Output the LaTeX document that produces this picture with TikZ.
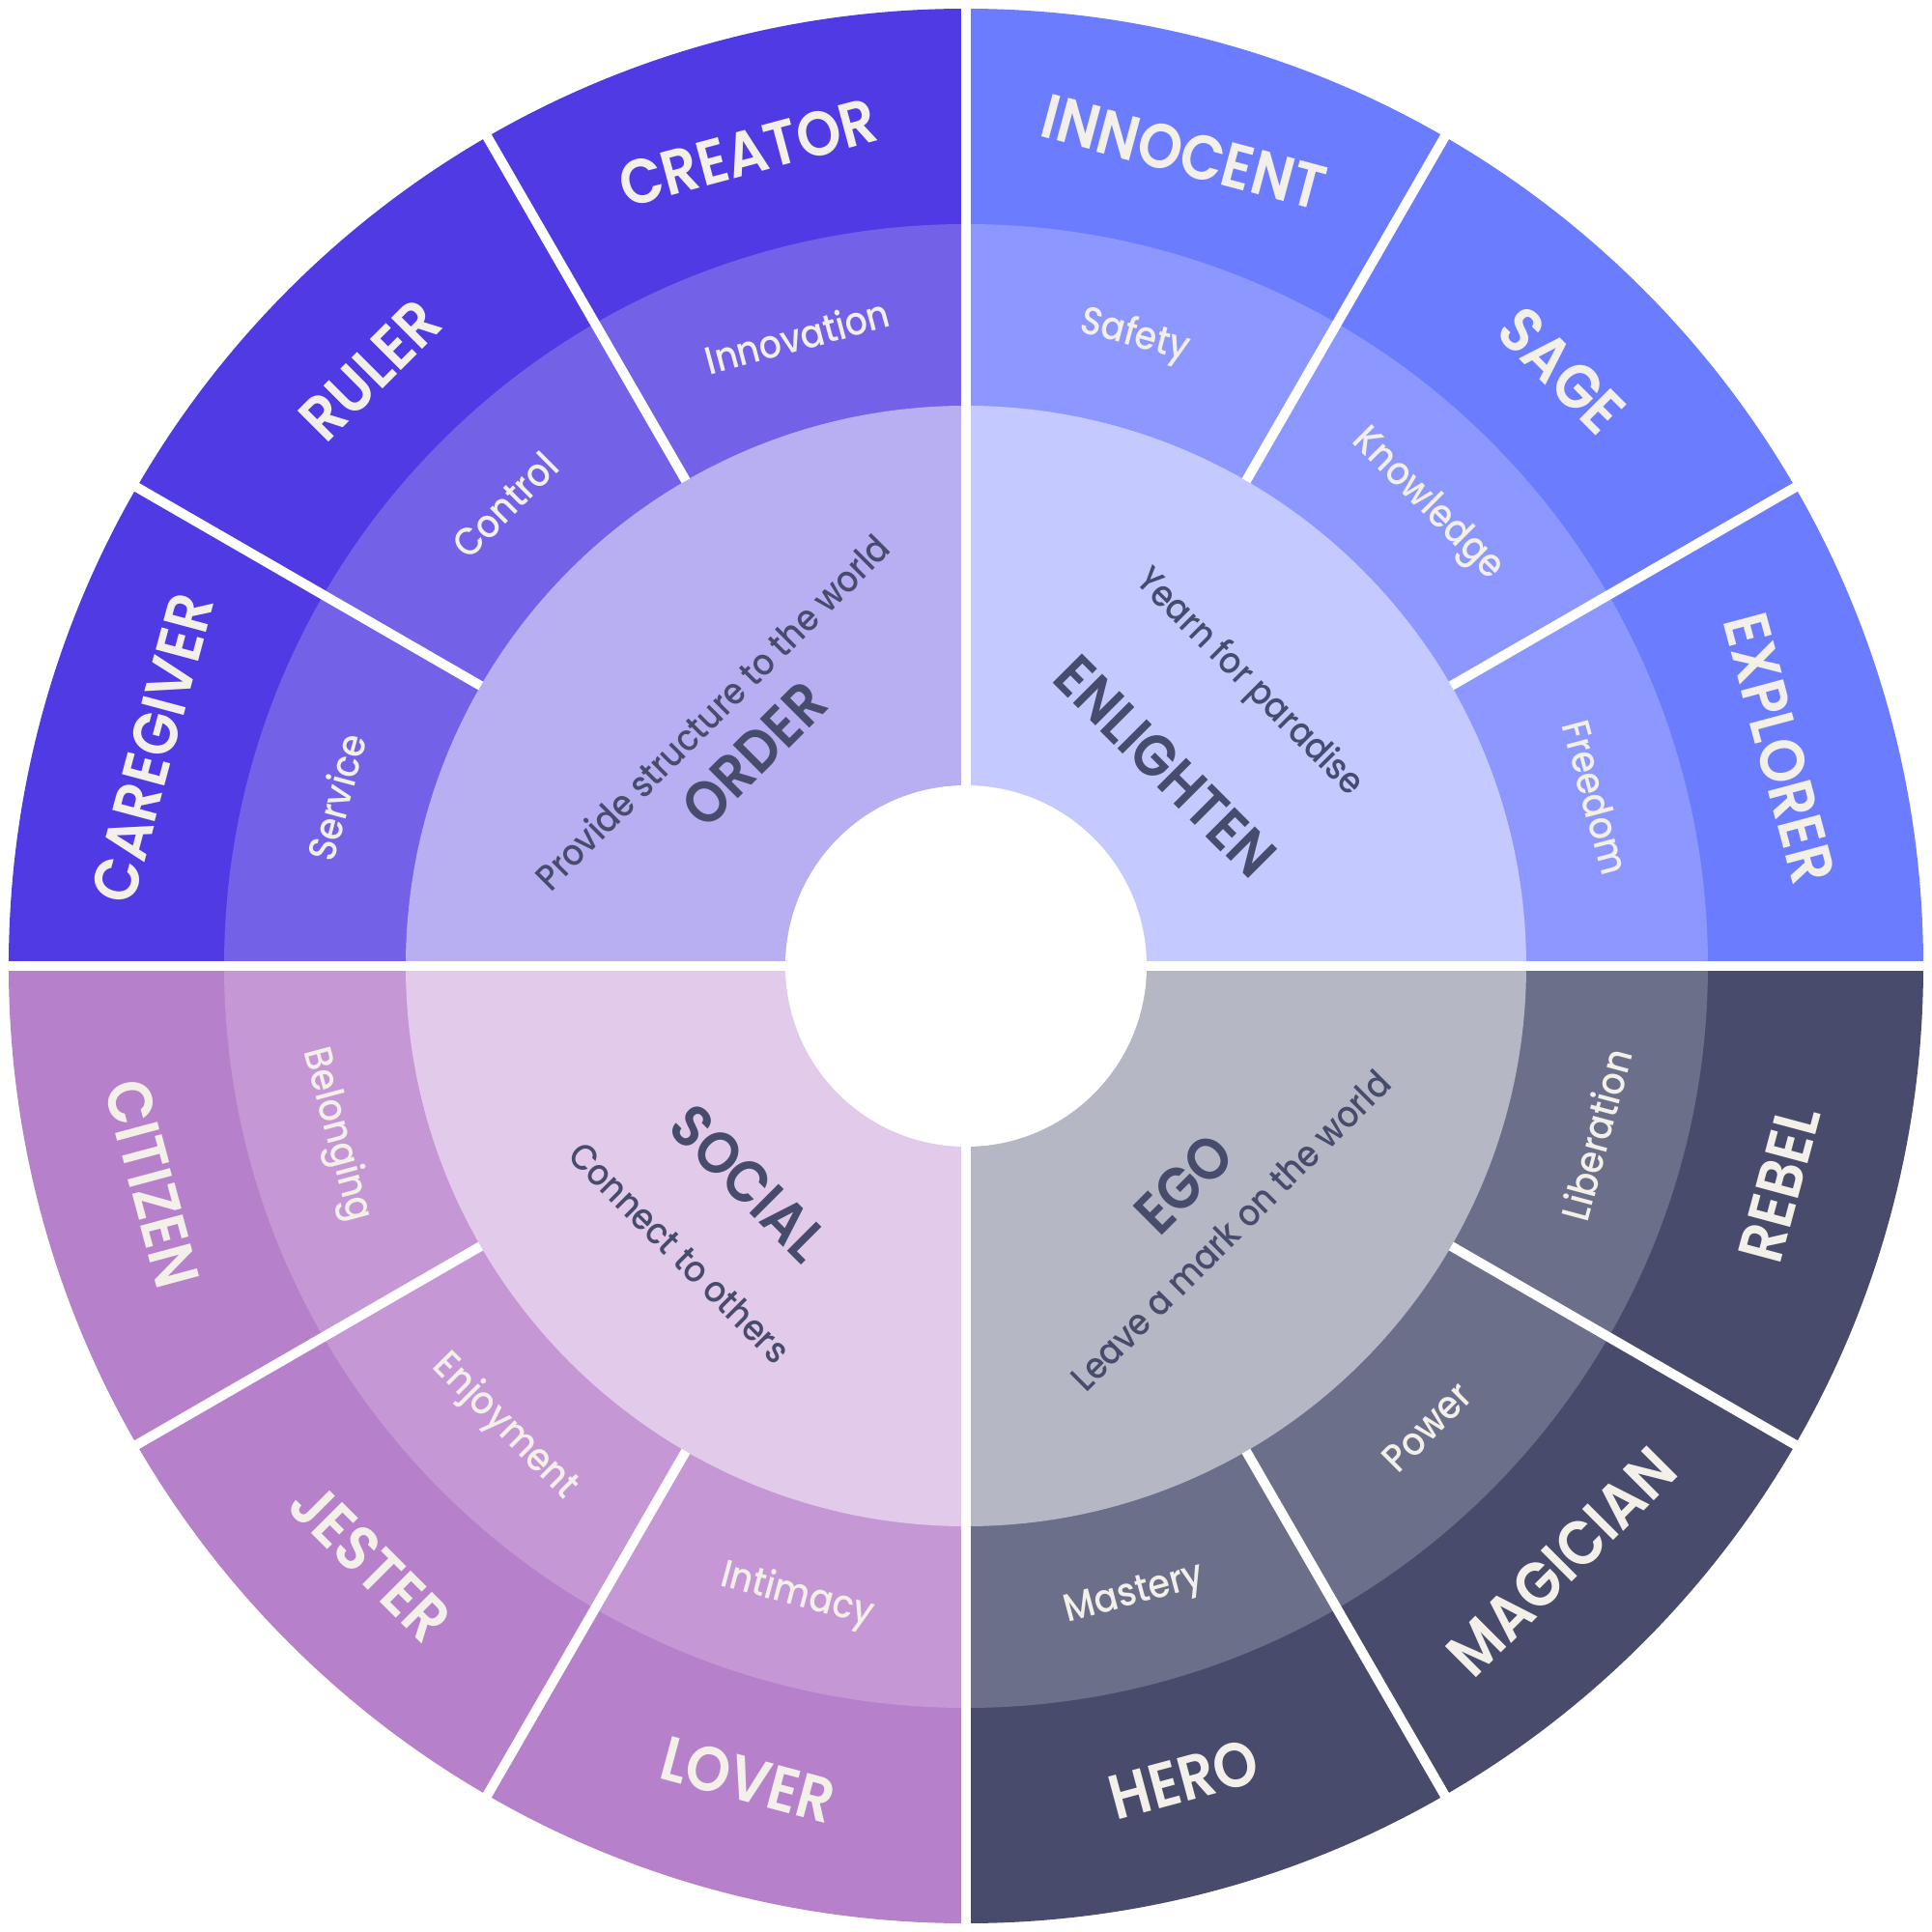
\documentclass[tikz,border=0pt]{standalone}
\usepackage{fontspec}
\setmainfont{Poppins}[FakeStretch=0.9, BoldFont={Poppins SemiBold}]
\newfontfamily\mediumfont{Poppins Medium}[FakeStretch=0.9]
\usetikzlibrary{calc}
\usetikzlibrary{positioning}

\definecolor{orderOut}{HTML}{4F3AE3}
\definecolor{orderMid}{HTML}{7361E8}
\definecolor{orderIn}{HTML}{B8AFF2}
\definecolor{enlOut}{HTML}{6C7CFF}
\definecolor{enlMid}{HTML}{8C98FF}
\definecolor{enlIn}{HTML}{C4CAFF}
\definecolor{egoOut}{HTML}{484B6B}
\definecolor{egoMid}{HTML}{6C6F8A}
\definecolor{egoIn}{HTML}{B6B7C5}
\definecolor{socOut}{HTML}{B780CB}
\definecolor{socMid}{HTML}{C597D5}
\definecolor{socIn}{HTML}{E2CAEA}
\definecolor{lightText}{HTML}{F3EFE9}
\definecolor{darkText}{HTML}{474C6D}

\tikzset{
  gapline/.style={white, line width=0.1cm},
  outerlbl/.style={text=lightText, font=\bfseries\fontsize{18.5}{18.5}\selectfont},
  midlbl/.style={text=lightText, font=\mediumfont\fontsize{11.5}{11.5}\selectfont},
  titlelbl/.style={text=darkText, font=\bfseries\fontsize{17.4}{17.4}\selectfont},
  desclbl/.style={text=darkText, font=\mediumfont\fontsize{10.7}{10.7}\selectfont},
}

\begin{document}
\begin{tikzpicture}
  \useasboundingbox (-10,-10) rectangle (10,10);

  % three rings per quarter
  \foreach \a/\co/\cm/\ci in {90/orderOut/orderMid/orderIn, 0/enlOut/enlMid/enlIn,
                              270/egoOut/egoMid/egoIn, 180/socOut/socMid/socIn} {
    \fill [\co] (0,0) -- (\a:9.91) arc [start angle=\a, delta angle=90, radius=9.91] -- cycle;
    \fill [\cm] (0,0) -- (\a:7.68) arc [start angle=\a, delta angle=90, radius=7.68] -- cycle;
    \fill [\ci] (0,0) -- (\a:5.80) arc [start angle=\a, delta angle=90, radius=5.80] -- cycle;
  }
  \fill [white] (0,0) circle (1.87);

  % white gaps
  \draw [gapline] (-10,0) -- (10,0);
  \draw [gapline] (0,-10) -- (0,10);
  \foreach \b in {30,60,120,150,210,240,300,330}
    \draw [gapline] (\b:5.80) -- (\b:10);

  % outer ring
  \foreach \ang/\txt [evaluate=\ang as \rot using {ifthenelse(\ang<180,\ang-90,\ang+90)}] in
      {105/CREATOR, 135/RULER, 165/CAREGIVER, 75/INNOCENT, 45/SAGE, 15/EXPLORER,
       345/REBEL, 315/MAGICIAN, 285/HERO, 255/LOVER, 225/JESTER, 195/CITIZEN}
    \node [outerlbl, rotate=\rot] (out\ang) at (\ang:8.72) {\txt};

  % middle ring
  \foreach \ang/\txt [evaluate=\ang as \rot using {ifthenelse(\ang<180,\ang-90,\ang+90)}] in
      {105/Innovation, 135/Control, 165/Service, 75/Safety, 45/Knowledge, 15/Freedom,
       345/Liberation, 315/Power, 285/Mastery, 255/Intimacy, 225/Enjoyment, 195/Belonging}
    \node [midlbl, rotate=\rot] (mid\ang) at (\ang:6.75) {\txt};

  % inner ring
  \node [titlelbl, rotate=45] (order) at (135:3.10) {ORDER};
  \node [desclbl, rotate=45] (orderdesc) at (135:3.72) {Provide structure to the world};
  \node [titlelbl, rotate=-45] (enlighten) at (45:2.92) {ENLIGHTEN};
  \node [desclbl, rotate=-45] (enlightendesc) at (45:4.14) {Yearn for paradise};
  \node [titlelbl, rotate=45] (ego) at (315:3.19) {EGO};
  \node [desclbl, rotate=45] (egodesc) at (315:3.87) {Leave a mark on the world};
  \node [titlelbl, rotate=-45] (social) at (225:3.18) {SOCIAL};
  \node [desclbl, rotate=-45] (socialdesc) at (225:4.19) {Connect to others};

\end{tikzpicture}
\end{document}
